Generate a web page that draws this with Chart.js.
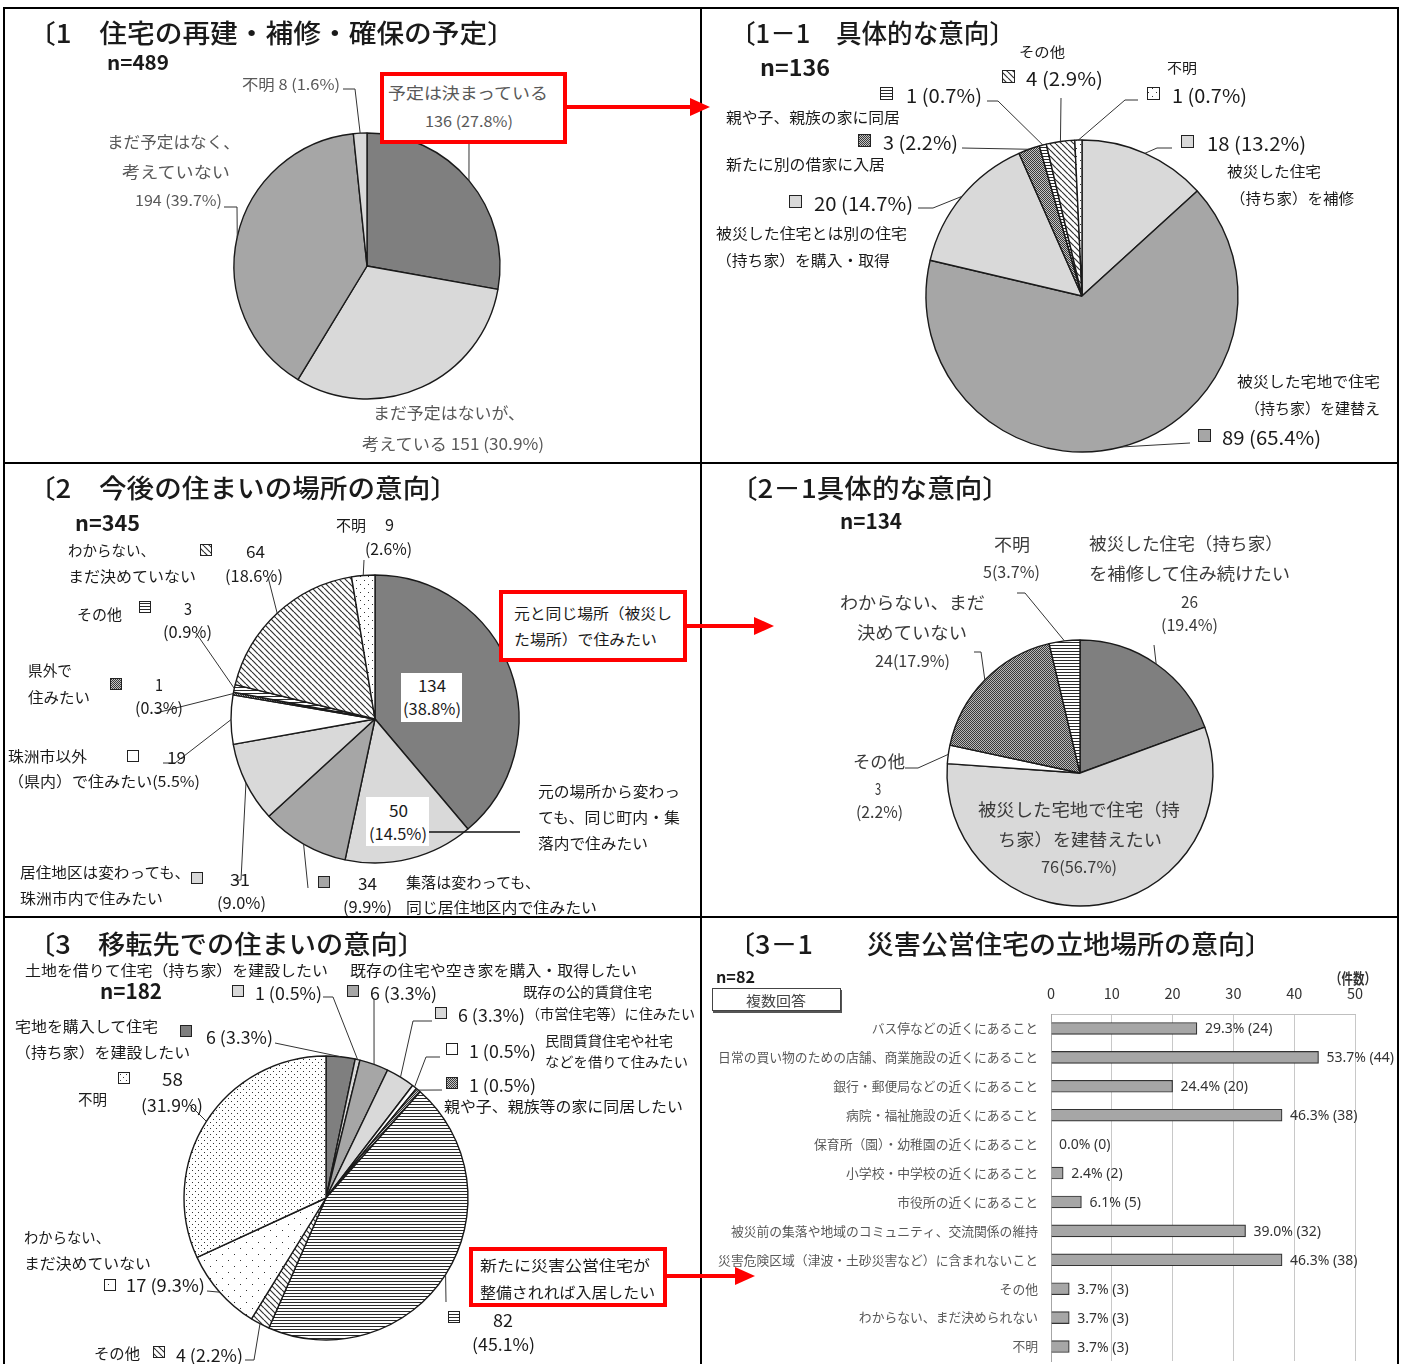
<!DOCTYPE html>
<html lang="ja">
<head>
<meta charset="utf-8">
<script src="https://cdn.jsdelivr.net/npm/chart.js@4.4.1/dist/chart.umd.min.js"></script>
<style>
  body { margin: 0; background: #fff; }
  #page { position: relative; width: 1402px; height: 1364px; overflow: hidden;
          font-family: "Noto Sans CJK JP", "Noto Sans", sans-serif; }
  #page canvas { position: absolute; left: 0; top: 0; }
  .t { position: absolute; white-space: nowrap; line-height: 1; transform-origin: left center; }
  .line { position: absolute; background: #000; }
  .redbox { position: absolute; box-sizing: border-box; border: 4px solid #ff0000; background: #fff; }
  .whitebox { position: absolute; background: #fff; }
  .tag { position: absolute; box-sizing: border-box; border: 1px solid #444; box-shadow: 1px 2px 0 #555; background: #fff; }
</style>
</head>
<body>
<div id="page">
  <canvas id="pie1" width="1402" height="1364"></canvas>
  <canvas id="pie11" width="1402" height="1364"></canvas>
  <canvas id="pie2" width="1402" height="1364"></canvas>
  <canvas id="pie21" width="1402" height="1364"></canvas>
  <canvas id="pie3" width="1402" height="1364"></canvas>
  <canvas id="bar31" width="1402" height="1364"></canvas>
</div>
<script>
// ---- data ----
const pie1Labels = ['予定は決まっている', 'まだ予定はないが、考えている', 'まだ予定はなく、考えていない', '不明'];
const pie1Values = [136, 151, 194, 8];
const pie1Pct = ['27.8%', '30.9%', '39.7%', '1.6%'];

const pie11Labels = ['被災した住宅（持ち家）を補修', '被災した宅地で住宅（持ち家）を建替え', '被災した住宅とは別の住宅（持ち家）を購入・取得',
    '新たに別の借家に入居', '親や子、親族の家に同居', 'その他', '不明'];
const pie11Values = [18, 89, 20, 3, 1, 4, 1];
const pie11Pct = ['13.2%', '65.4%', '14.7%', '2.2%', '0.7%', '2.9%', '0.7%'];

const pie2Labels = ['元と同じ場所（被災した場所）で住みたい', '元の場所から変わっても、同じ町内・集落内で住みたい',
    '集落は変わっても、同じ居住地区内で住みたい', '居住地区は変わっても、珠洲市内で住みたい', '珠洲市以外（県内）で住みたい',
    '県外で住みたい', 'その他', 'わからない、まだ決めていない', '不明'];
const pie2Values = [134, 50, 34, 31, 19, 1, 3, 64, 9];
const pie2Pct = ['38.8%', '14.5%', '9.9%', '9.0%', '5.5%', '0.3%', '0.9%', '18.6%', '2.6%'];

const pie21Labels = ['被災した住宅（持ち家）を補修して住み続けたい', '被災した宅地で住宅（持ち家）を建替えたい', 'その他',
    'わからない、まだ決めていない', '不明'];
const pie21Values = [26, 76, 3, 24, 5];
const pie21Pct = ['19.4%', '56.7%', '2.2%', '17.9%', '3.7%'];

const pie3Labels = ['宅地を購入して住宅（持ち家）を建設したい', '土地を借りて住宅（持ち家）を建設したい', '既存の住宅や空き家を購入・取得したい',
    '既存の公的賃貸住宅（市営住宅等）に住みたい', '民間賃貸住宅や社宅などを借りて住みたい', '親や子、親族等の家に同居したい',
    '新たに災害公営住宅が整備されれば入居したい', 'その他', 'わからない、まだ決めていない', '不明'];
const pie3Values = [6, 1, 6, 6, 1, 1, 82, 4, 17, 58];
const pie3Pct = ['3.3%', '0.5%', '3.3%', '3.3%', '0.5%', '0.5%', '45.1%', '2.2%', '9.3%', '31.9%'];

const barLabels = ['バス停などの近くにあること', '日常の買い物のための店舗、商業施設の近くにあること', '銀行・郵便局などの近くにあること',
    '病院・福祉施設の近くにあること', '保育所（園）・幼稚園の近くにあること', '小学校・中学校の近くにあること', '市役所の近くにあること',
    '被災前の集落や地域のコミュニティ、交流関係の維持', '災害危険区域（津波・土砂災害など）に含まれないこと', 'その他',
    'わからない、まだ決められない', '不明'];
const barValues = [24, 44, 20, 38, 0, 2, 5, 32, 38, 3, 3, 3];
const barPct = ['29.3%', '53.7%', '24.4%', '46.3%', '0.0%', '2.4%', '6.1%', '39.0%', '46.3%', '3.7%', '3.7%', '3.7%'];
const barTicks = [0, 10, 20, 30, 40, 50];

// ---- helpers ----
const W = 1402, H = 1364;
const page = document.getElementById('page');
Chart.defaults.font.family = '"Noto Sans CJK JP", "Noto Sans", sans-serif';

const vp = (vals, pcts, i) => `${vals[i]} (${pcts[i]})`;

function pattern(kind, opt) {
    const c = document.createElement('canvas');
    const g = c.getContext('2d');
    if (kind === 'hatch') {
        c.width = c.height = 6;
        g.fillStyle = '#fff'; g.fillRect(0, 0, 6, 6);
        g.strokeStyle = '#333'; g.lineWidth = 1.2;
        for (const k of [-6, 0, 6]) { g.beginPath(); g.moveTo(k, 0); g.lineTo(k + 6, 6); g.stroke(); }
    } else if (kind === 'stripes') {
        c.width = 4; c.height = 3;
        g.fillStyle = '#fff'; g.fillRect(0, 0, 4, 3);
        g.fillStyle = '#2a2a2a'; g.fillRect(0, 0, 4, 1);
    } else if (kind === 'checker') {
        c.width = c.height = 2;
        g.fillStyle = opt || '#c4c4c4'; g.fillRect(0, 0, 2, 2);
        g.fillStyle = '#3a3a3a'; g.fillRect(0, 0, 1, 1); g.fillRect(1, 1, 1, 1);
    } else if (kind === 'dots') {
        c.width = c.height = opt * 2;
        g.fillStyle = '#fff'; g.fillRect(0, 0, opt * 2, opt * 2);
        g.fillStyle = '#333'; g.fillRect(0, 0, 1, 1); g.fillRect(opt, opt, 1, 1);
    }
    return g.createPattern(c, 'repeat');
}

const DARK = '#7f7f7f', MID = '#a6a6a6', LIGHT = '#d9d9d9', WHITE = '#ffffff';

function T(x1, x2, y, text, size, opts = {}) {
    const d = document.createElement('div');
    d.className = 't';
    d.textContent = text;
    d.style.left = x1 + 'px';
    d.style.top = y + 'px';
    d.style.fontSize = size + 'px';
    d.style.color = opts.color || '#1a1a1a';
    if (opts.bold) d.style.fontWeight = opts.bold === true ? 'bold' : opts.bold;
    page.appendChild(d);
    const w = d.getBoundingClientRect().width;
    let s = w > 0 ? (x2 - x1) / w : 1;
    s = Math.min(1.35, Math.max(0.7, s));
    d.style.transform = `translateY(-50%) scaleX(${s.toFixed(3)})`;
    return d;
}

function box(cls, x1, y1, x2, y2) {
    const d = document.createElement('div');
    d.className = cls;
    d.style.left = x1 + 'px';
    d.style.top = y1 + 'px';
    d.style.width = (x2 - x1) + 'px';
    d.style.height = (y2 - y1) + 'px';
    page.appendChild(d);
    return d;
}

// leader lines from slice mid-angle and legend keys, drawn from the chart's own arcs
const pieNotes = {
    id: 'pieNotes',
    afterDatasetsDraw(chart, args, opts) {
        const ctx = chart.ctx;
        const meta = chart.getDatasetMeta(0);
        const bg = chart.data.datasets[0].backgroundColor;
        ctx.save();
        ctx.strokeStyle = '#333';
        ctx.lineWidth = 1;
        (opts.leaders || []).forEach(([i, pts]) => {
            const a = meta.data[i].getProps(['x', 'y', 'startAngle', 'endAngle', 'outerRadius'], true);
            const mid = (a.startAngle + a.endAngle) / 2;
            ctx.beginPath();
            ctx.moveTo(a.x + Math.cos(mid) * a.outerRadius, a.y + Math.sin(mid) * a.outerRadius);
            pts.forEach(p => ctx.lineTo(p[0], p[1]));
            ctx.stroke();
        });
        (opts.keys || []).forEach(([i, x, y, s]) => {
            ctx.fillStyle = bg[i];
            ctx.fillRect(x, y, s, s);
            ctx.strokeStyle = '#222';
            ctx.strokeRect(x + 0.5, y + 0.5, s, s);
        });
        ctx.restore();
    }
};

function makePie(id, labels, values, colors, cx, cy, r, notes) {
    return new Chart(document.getElementById(id), {
        type: 'pie',
        data: { labels, datasets: [{ data: values, backgroundColor: colors, borderColor: '#1a1a1a', borderWidth: 1.4 }] },
        options: {
            responsive: false,
            animation: false,
            radius: r,
            layout: { padding: { left: cx - r, right: W - cx - r, top: cy - r, bottom: H - cy - r } },
            plugins: { legend: { display: false }, tooltip: { enabled: false }, pieNotes: notes }
        },
        plugins: [pieNotes]
    });
}

// ---- panel 1 ----
makePie('pie1', pie1Labels, pie1Values, [DARK, LIGHT, MID, LIGHT], 367, 266, 133, {
    leaders: [[0, [[469, 130]]], [2, [[237, 207], [224, 207]]], [3, [[355, 89], [343, 89]]]]
});

// ---- panel 1-1 ----
makePie('pie11', pie11Labels, pie11Values,
    [LIGHT, MID, LIGHT, pattern('checker'), pattern('stripes'), pattern('hatch'), pattern('dots', 4)],
    1082, 296, 156, {
        leaders: [[0, [[1157, 148], [1172, 148]]], [1, [[1190, 443]]], [2, [[933, 208], [918, 208]]],
            [3, [[962, 148]]], [4, [[998, 101], [987, 101]]], [5, [[1061, 98]]], [6, [[1125, 100], [1138, 100]]]],
        keys: [[5, 1002, 70, 12], [6, 1147, 87, 12], [4, 880, 87, 12], [3, 858, 134, 12], [2, 789, 195, 12],
            [0, 1181, 135, 12], [1, 1198, 429, 12]]
    });

// ---- panel 2 ----
makePie('pie2', pie2Labels, pie2Values,
    [DARK, LIGHT, MID, LIGHT, WHITE, pattern('checker'), pattern('stripes'), pattern('hatch'), pattern('dots', 4)],
    375, 719, 144, {
        leaders: [[7, [[268, 577]]], [6, [[196, 633]]], [5, [[156, 713]]], [4, [[175, 763], [163, 763]]],
            [3, [[241, 880], [235, 880]]], [2, [[308, 888]]], [8, [[364, 560]]]],
        keys: [[7, 200, 544, 11], [6, 139, 601, 11], [5, 110, 678, 11], [4, 127, 750, 11], [3, 191, 872, 11], [2, 318, 876, 11]]
    });

// ---- panel 2-1 ----
makePie('pie21', pie21Labels, pie21Values,
    [DARK, LIGHT, WHITE, pattern('checker', '#b8b8b8'), pattern('stripes')],
    1080, 773, 133, {
        leaders: [[4, [[1025, 593], [1017, 593]]], [0, [[1154, 645]]], [3, [[981, 652], [974, 652]]], [2, [[918, 768], [905, 768]]]]
    });

// ---- panel 3 ----
makePie('pie3', pie3Labels, pie3Values,
    [DARK, LIGHT, MID, LIGHT, WHITE, pattern('checker'), pattern('stripes'), pattern('hatch'), pattern('dots', 6), pattern('dots', 3)],
    326, 1198, 142, {
        leaders: [[0, [[275, 1043]]], [1, [[333, 997], [323, 997]]], [2, [[374, 999]]], [3, [[413, 1021], [432, 1021]]],
            [4, [[426, 1057], [440, 1057]]], [5, [[442, 1090]]], [6, [[446, 1302]]], [7, [[254, 1360], [245, 1360]]],
            [8, [[207, 1291]]], [9, [[190, 1105]]]],
        keys: [[1, 232, 985, 11], [2, 347, 985, 11], [3, 435, 1007, 11], [0, 180, 1025, 11], [4, 446, 1043, 11],
            [5, 446, 1077, 11], [9, 118, 1072, 11], [8, 104, 1279, 11], [7, 153, 1346, 11], [6, 448, 1311, 11]]
    });

// ---- panel 3-1 bar chart ----
const barText = {
    id: 'barText',
    afterDatasetsDraw(chart) {
        const ctx = chart.ctx;
        ctx.save();
        ctx.font = '14px "Noto Sans", sans-serif';
        ctx.fillStyle = '#333';
        ctx.textBaseline = 'middle';
        chart.getDatasetMeta(0).data.forEach((bar, i) => {
            ctx.fillText(`${barPct[i]} (${barValues[i]})`, bar.x + 8, bar.y + 1);
        });
        ctx.restore();
    }
};

new Chart(document.getElementById('bar31'), {
    type: 'bar',
    data: { labels: barLabels, datasets: [{ data: barValues, backgroundColor: MID, borderColor: '#333', borderWidth: 1.2, barThickness: 12 }] },
    options: {
        indexAxis: 'y',
        responsive: false,
        animation: false,
        layout: { padding: { left: 705, right: W - 1355, top: 960, bottom: H - 1361 } },
        scales: {
            x: {
                position: 'top', min: barTicks[0], max: barTicks[barTicks.length - 1],
                afterBuildTicks: s => { s.ticks = barTicks.map(v => ({ value: v })); },
                afterFit: s => { s.height = 1014 - 960; },
                ticks: { color: '#333', font: { size: 14.5 }, padding: 12 },
                grid: { color: '#c8c8c8', drawTicks: false },
                border: { color: '#bfbfbf' }
            },
            y: {
                afterFit: s => { s.width = 1051 - 705; s.paddingTop = 0; s.paddingBottom = 0; },
                ticks: { color: '#595959', font: { size: 12.8 }, padding: 13, autoSkip: false },
                grid: { display: false, drawTicks: false },
                border: { color: '#a6a6a6' }
            }
        },
        plugins: { legend: { display: false }, tooltip: { enabled: false } }
    },
    plugins: [barText]
});

// ---- frame ----
[[3, 7, 1398, 9], [3, 7, 5, 1364], [1397, 7, 1399, 1364], [700, 7, 702, 1364], [3, 462, 1399, 464], [3, 916, 1399, 918]]
    .forEach(([x1, y1, x2, y2]) => box('line', x1, y1, x2, y2));

// ---- red callout boxes and white value boxes ----
box('redbox', 380, 72, 567, 144);
box('redbox', 499, 590, 687, 662);
box('redbox', 469, 1247, 667, 1307);
box('whitebox', 401, 673, 462, 722);
box('whitebox', 366, 797, 429, 846);
box('tag', 712, 988, 841, 1011);

// ---- texts ----
const GRAY = '#595959';
const TITLE = { bold: 500 };
// panel 1
T(28, 515, 32, '〔1　住宅の再建・補修・確保の予定〕', 26, TITLE);
T(107, 169, 62, 'n=489', 20, { bold: true });
T(242, 340, 83, pie1Labels[3] + ' ' + vp(pie1Values, pie1Pct, 3), 15, { color: GRAY });
T(388, 548, 92, pie1Labels[0], 16, { color: GRAY });
T(425, 513, 120, vp(pie1Values, pie1Pct, 0), 15, { color: GRAY });
T(107, 240, 141, 'まだ予定はなく、', 16, { color: GRAY });
T(122, 230, 171, '考えていない', 16, { color: GRAY });
T(135, 222, 199, vp(pie1Values, pie1Pct, 2), 15, { color: GRAY });
T(373, 525, 412, 'まだ予定はないが、', 16, { color: GRAY });
T(362, 544, 443, '考えている ' + vp(pie1Values, pie1Pct, 1), 16, { color: GRAY });

// panel 1-1
T(730, 1015, 32, '〔1－1　具体的な意向〕', 26, TITLE);
T(760, 830, 66, 'n=136', 22, { bold: true });
T(1019, 1065, 51, 'その他', 14);
T(1026, 1103, 77, vp(pie11Values, pie11Pct, 5), 19);
T(1167, 1197, 67, '不明', 14);
T(1172, 1247, 94, vp(pie11Values, pie11Pct, 6), 19);
T(906, 982, 94, vp(pie11Values, pie11Pct, 4), 19);
T(726, 900, 116, pie11Labels[4], 15);
T(883, 958, 141, vp(pie11Values, pie11Pct, 3), 19);
T(726, 885, 163, pie11Labels[3], 15);
T(814, 913, 202, vp(pie11Values, pie11Pct, 2), 19);
T(716, 907, 232, '被災した住宅とは別の住宅', 15);
T(716, 890, 259, '（持ち家）を購入・取得', 15);
T(1207, 1306, 142, vp(pie11Values, pie11Pct, 0), 19);
T(1227, 1321, 170, '被災した住宅', 15);
T(1230, 1354, 197, '（持ち家）を補修', 15);
T(1237, 1380, 380, '被災した宅地で住宅', 15);
T(1245, 1380, 407, '（持ち家）を建替え', 15);
T(1222, 1321, 436, vp(pie11Values, pie11Pct, 1), 19);

// panel 2
T(28, 458, 487, '〔2　今後の住まいの場所の意向〕', 26, TITLE);
T(75, 140, 522, 'n=345', 21, { bold: true });
T(336, 366, 524, '不明', 15);
T(385, 394, 524, String(pie2Values[8]), 16);
T(365, 412, 548, `(${pie2Pct[8]})`, 16);
T(68, 155, 549, 'わからない、', 15);
T(68, 196, 575, 'まだ決めていない', 15);
T(246, 265, 551, String(pie2Values[7]), 16);
T(225, 283, 575, `(${pie2Pct[7]})`, 16);
T(77, 122, 613, 'その他', 15);
T(184, 192, 608, String(pie2Values[6]), 16);
T(163, 212, 631, `(${pie2Pct[6]})`, 16);
T(28, 72, 669, '県外で', 15);
T(28, 90, 696, '住みたい', 15);
T(155, 163, 684, String(pie2Values[5]), 16);
T(135, 183, 707, `(${pie2Pct[5]})`, 16);
T(8, 87, 755, '珠洲市以外', 15);
T(8, 200, 780, `（県内）で住みたい(${pie2Pct[4]})`, 15);
T(167, 186, 757, String(pie2Values[4]), 16);
T(20, 190, 871, '居住地区は変わっても、', 15);
T(20, 163, 897, '珠洲市内で住みたい', 15);
T(230, 250, 879, String(pie2Values[3]), 16);
T(217, 266, 902, `(${pie2Pct[3]})`, 16);
T(358, 377, 883, String(pie2Values[2]), 16);
T(343, 392, 906, `(${pie2Pct[2]})`, 16);
T(406, 540, 881, '集落は変わっても、', 15);
T(406, 597, 906, '同じ居住地区内で住みたい', 15);
T(538, 680, 790, '元の場所から変わっ', 15);
T(538, 680, 816, 'ても、同じ町内・集', 15);
T(538, 648, 842, '落内で住みたい', 15);
T(389, 408, 810, String(pie2Values[1]), 16);
T(369, 427, 833, `(${pie2Pct[1]})`, 16);
T(418, 446, 685, String(pie2Values[0]), 16);
T(403, 461, 708, `(${pie2Pct[0]})`, 16);
T(514, 672, 612, '元と同じ場所（被災し', 15);
T(514, 657, 638, 'た場所）で住みたい', 15);

// panel 2-1
const G21 = '#3a3a3a';
T(730, 1010, 487, '〔2－1具体的な意向〕', 26, TITLE);
T(840, 902, 520, 'n=134', 21, { bold: true });
T(994, 1030, 543, '不明', 17, { color: G21 });
T(983, 1040, 571, `${pie21Values[4]}(${pie21Pct[4]})`, 16, { color: G21 });
T(1089, 1283, 542, '被災した住宅（持ち家）', 17, { color: G21 });
T(1089, 1290, 572, 'を補修して住み続けたい', 17, { color: G21 });
T(1181, 1198, 601, String(pie21Values[0]), 16, { color: G21 });
T(1161, 1218, 624, `(${pie21Pct[0]})`, 16, { color: G21 });
T(840, 985, 601, 'わからない、まだ', 17, { color: G21 });
T(857, 967, 631, '決めていない', 17, { color: G21 });
T(875, 950, 660, `${pie21Values[3]}(${pie21Pct[3]})`, 16, { color: G21 });
T(853, 905, 760, 'その他', 17, { color: G21 });
T(875, 881, 788, String(pie21Values[2]), 16, { color: G21 });
T(856, 903, 811, `(${pie21Pct[2]})`, 16, { color: G21 });
T(978, 1180, 808, '被災した宅地で住宅（持', 17, { color: G21 });
T(998, 1162, 838, 'ち家）を建替えたい', 17, { color: G21 });
T(1041, 1117, 866, `${pie21Values[1]}(${pie21Pct[1]})`, 16, { color: G21 });

// panel 3
T(28, 425, 943, '〔3　移転先での住まいの意向〕', 26, TITLE);
T(25, 328, 969, pie3Labels[1], 15);
T(350, 637, 969, pie3Labels[2], 15);
T(100, 162, 990, 'n=182', 21, { bold: true });
T(255, 322, 992, vp(pie3Values, pie3Pct, 1), 17);
T(370, 437, 992, vp(pie3Values, pie3Pct, 2), 17);
T(523, 652, 991, '既存の公的賃貸住宅', 14);
T(458, 525, 1014, vp(pie3Values, pie3Pct, 3), 17);
T(526, 695, 1013, '（市営住宅等）に住みたい', 14);
T(15, 158, 1025, '宅地を購入して住宅', 15);
T(15, 190, 1051, '（持ち家）を建設したい', 15);
T(206, 273, 1036, vp(pie3Values, pie3Pct, 0), 17);
T(545, 673, 1040, '民間賃貸住宅や社宅', 14);
T(545, 688, 1061, 'などを借りて住みたい', 14);
T(469, 536, 1050, vp(pie3Values, pie3Pct, 4), 17);
T(469, 536, 1084, vp(pie3Values, pie3Pct, 5), 17);
T(444, 683, 1105, pie3Labels[5], 15);
T(162, 183, 1078, String(pie3Values[9]), 17);
T(78, 107, 1098, '不明', 15);
T(141, 203, 1104, `(${pie3Pct[9]})`, 17);
T(24, 110, 1236, 'わからない、', 15);
T(24, 151, 1262, 'まだ決めていない', 15);
T(126, 205, 1284, vp(pie3Values, pie3Pct, 8), 17);
T(94, 140, 1352, 'その他', 15);
T(176, 243, 1354, vp(pie3Values, pie3Pct, 7), 17);
T(493, 513, 1319, String(pie3Values[6]), 17);
T(472, 535, 1343, `(${pie3Pct[6]})`, 17);
T(480, 650, 1264, '新たに災害公営住宅が', 15);
T(480, 655, 1291, '整備されれば入居したい', 15);

// panel 3-1
T(728, 1272, 943, '〔3－1　　災害公営住宅の立地場所の意向〕', 26, TITLE);
T(716, 755, 976, 'n=82', 16, { bold: true });
T(746, 806, 1000, '複数回答', 14, { color: '#444' });
T(1330, 1376, 977, '（件数）', 15, { bold: true, color: '#333' });

// ---- arrows and the extra callout line ----
const NS = 'http://www.w3.org/2000/svg';
const svg = document.createElementNS(NS, 'svg');
svg.setAttribute('width', W);
svg.setAttribute('height', H);
svg.style.position = 'absolute';
svg.style.left = '0';
svg.style.top = '0';
page.appendChild(svg);
function svgEl(tagName, attrs) {
    const e = document.createElementNS(NS, tagName);
    Object.entries(attrs).forEach(([k, v]) => e.setAttribute(k, v));
    svg.appendChild(e);
}
[[567, 692, 107], [687, 756, 626], [667, 737, 1276]].forEach(([x1, x2, y]) => {
    svgEl('line', { x1, y1: y, x2, y2: y, stroke: '#ff0000', 'stroke-width': 4 });
    svgEl('polygon', { points: `${x2 - 2},${y - 9} ${x2 + 18},${y} ${x2 - 2},${y + 9}`, fill: '#ff0000' });
});
svgEl('line', { x1: 429, y1: 832, x2: 520, y2: 832, stroke: '#111', 'stroke-width': 1.5 });
</script>
</body>
</html>
